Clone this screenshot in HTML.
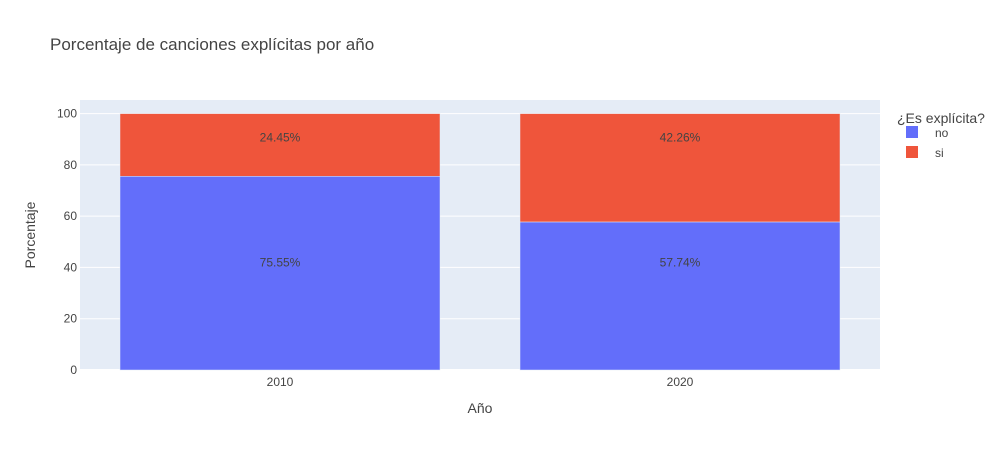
<!DOCTYPE html>
<html><head><meta charset="utf-8"><style>
body{margin:0;background:#fff;font-family:"Liberation Sans",sans-serif}
</style></head><body>
<svg id="c" width="995" height="450" xmlns="http://www.w3.org/2000/svg" style="font-family:'Liberation Sans',sans-serif">
<text x="50" y="50" font-size="17" fill="#444">Porcentaje de canciones explícitas por año</text>
<rect x="80" y="100" width="800" height="270" fill="#e5ecf6"/>
<g id="grid"></g><g id="bars"></g><g id="labels"></g>
<text x="480" y="413" font-size="14" fill="#444" text-anchor="middle">Año</text>
<text transform="translate(35,235) rotate(-90)" font-size="14" fill="#444" text-anchor="middle">Porcentaje</text>
<text x="897" y="123" font-size="14" fill="#444">¿Es explícita?</text>
<g><rect x="906" y="126" width="12" height="12" fill="#636efa"/><text x="935" y="137" font-size="12" fill="#444">no</text></g>
<g><rect x="906" y="146" width="12" height="12" fill="#ef553b"/><text x="935" y="157" font-size="12" fill="#444">si</text></g>
</svg>
<script>
const categories=["2010","2020"];
const noValues=[75.55,57.74];
const siValues=[24.45,42.26];
const yTicks=[0,20,40,60,80,100];
const ns="http://www.w3.org/2000/svg";
const x0=80,pw=800,yb=370,ymax=105.3,ph=270;
const y=v=>yb-v/ymax*ph;
const bw=pw/categories.length;
const xc=i=>x0+bw*(i+0.5);
const noLabelY=y(42);
function el(t,a,p){const e=document.createElementNS(ns,t);for(const k in a)e.setAttribute(k,a[k]);document.getElementById(p).appendChild(e);return e;}
yTicks.forEach(t=>{
  const l=el('line',{x1:x0,x2:x0+pw,y1:y(t),y2:y(t),stroke:'#fff','stroke-width':t===0?2:1},'grid');
  
  
  const tx=el('text',{x:x0-3,y:y(t)+4,'font-size':12,fill:'#444','text-anchor':'end'},'grid');
  tx.textContent=t;
  
  
});
categories.forEach((c,i)=>{
  const w=bw*0.8,xl=xc(i)-w/2;
  const b1=el('rect',{x:xl,y:y(noValues[i]),width:w,height:yb-y(noValues[i]),fill:'#636efa',stroke:'#e5ecf6','stroke-width':0.5},'bars');
  
  
  const top=noValues[i]+siValues[i];
  const b2=el('rect',{x:xl,y:y(top),width:w,height:y(noValues[i])-y(top),fill:'#ef553b',stroke:'#e5ecf6','stroke-width':0.5},'bars');
  
  
  const t1=el('text',{x:xc(i),y:Math.max(noLabelY,y(noValues[i])+20)+4,'font-size':12,fill:'#444','text-anchor':'middle'},'labels');
  t1.textContent=noValues[i].toFixed(2)+'%';
  
  
  const t2=el('text',{x:xc(i),y:y(top)+28,'font-size':12,fill:'#444','text-anchor':'middle'},'labels');
  t2.textContent=siValues[i].toFixed(2)+'%';
  
  
  const tx=el('text',{x:xc(i),y:yb+16,'font-size':12,fill:'#444','text-anchor':'middle'},'labels');
  tx.textContent=c;
  
  
});
</script>
</body></html>
